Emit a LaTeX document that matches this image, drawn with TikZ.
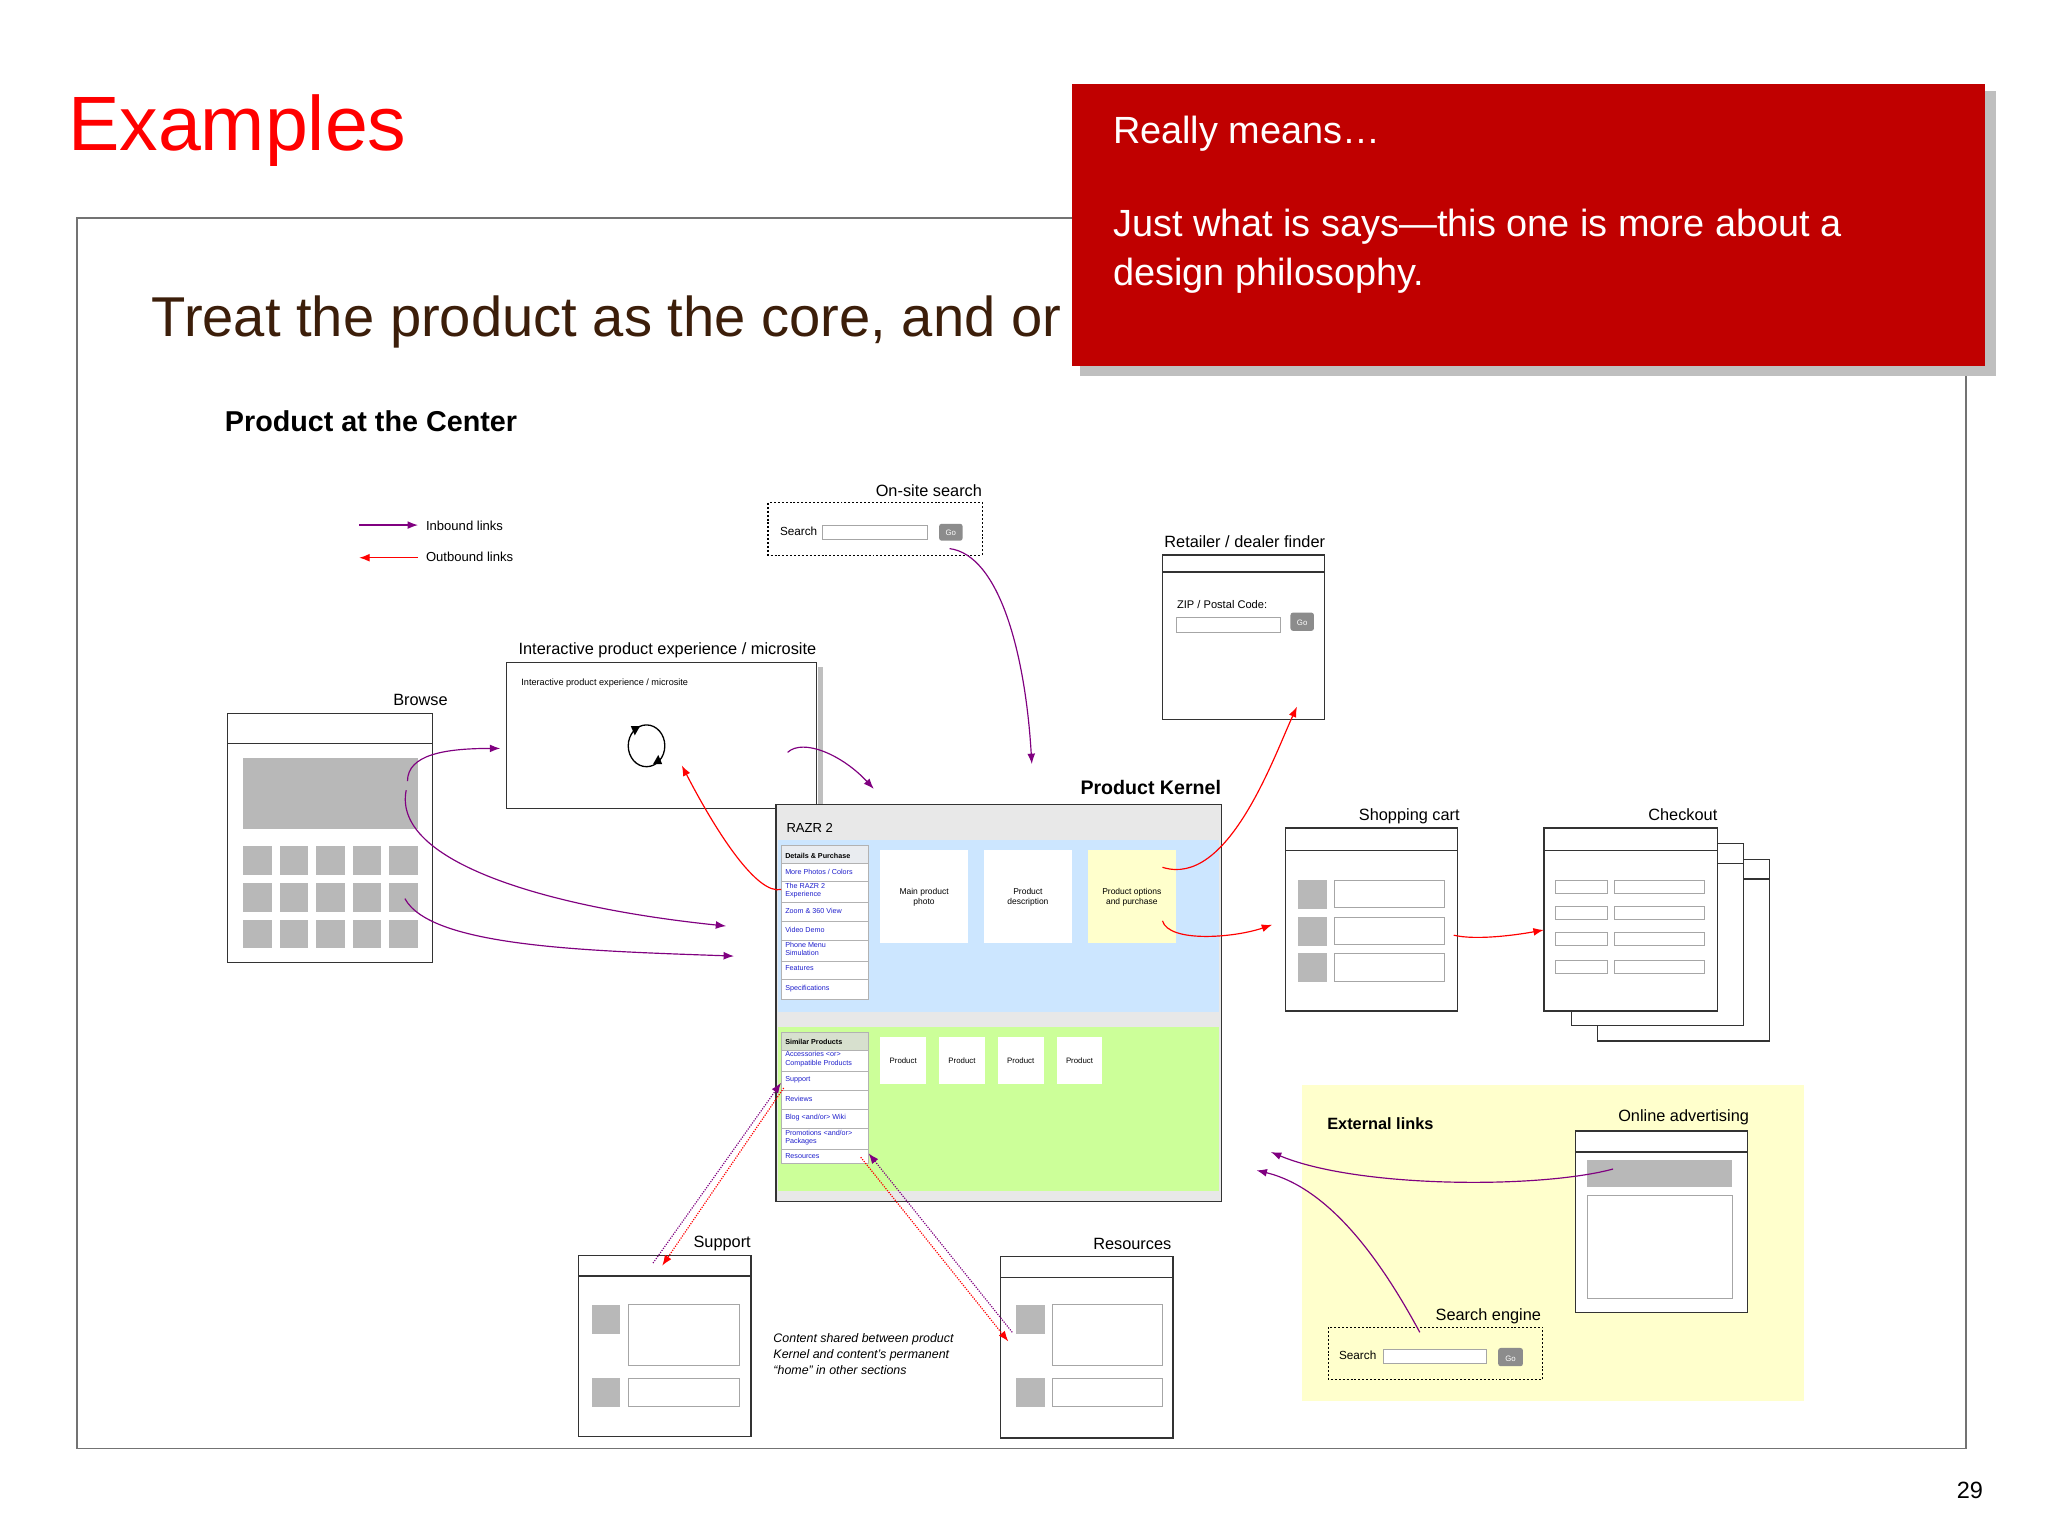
\documentclass[tikz,border=0pt]{standalone}
\usepackage{fontspec}
\setmainfont{Liberation Sans}
\usetikzlibrary{arrows.meta}
\definecolor{pur}{HTML}{800080}
\definecolor{redbox}{HTML}{C00000}
\definecolor{blueA}{HTML}{CCE6FF}
\definecolor{greenA}{HTML}{CCFF99}
\definecolor{yel}{HTML}{FFFFCC}
\definecolor{lnk}{HTML}{2020CC}
\tikzset{
 t/.style={inner sep=0pt,anchor=base west,font=\fontsize{#1}{#1}\selectfont},
 tr/.style={inner sep=0pt,anchor=base east,font=\fontsize{#1}{#1}\selectfont},
 tc/.style={inner sep=0pt,anchor=base,font=\fontsize{#1}{#1}\selectfont},
 wire/.style={draw=black!80,line width=1pt,fill=white},
 inbox/.style={draw=black!35,line width=0.6pt,fill=white},
 gobtn/.style={fill=black!45,rounded corners=2pt},
 inarr/.style={pur,line width=0.9pt,-{Latex[length=8pt,width=6pt]}},
 outarr/.style={red,line width=0.9pt,-{Latex[length=8pt,width=6pt]}},
 menuitem/.style={draw=black!30,line width=0.5pt,fill=white},
 mtxt/.style={inner sep=0pt,anchor=north west,text=lnk,font=\fontsize{5.5}{6.2}\selectfont,align=left},
}
\begin{document}
\begin{tikzpicture}[x=1pt,y=-1pt]
\useasboundingbox (0,0) rectangle (1568,1176);
\fill[white] (0,0) rectangle (1568,1176);
% frame
\draw[black!55,line width=1.5pt] (59,167) rectangle (1505,1109);
\node[t=59,text=red] (ex) at (52,115) {Examples};
\node[t=43,text={rgb,255:red,60;green,30;blue,10}] (treat) at (116,258) {Treat the product as the core, and or};
\node[t=22,font=\fontsize{22}{22}\selectfont\bfseries] (pac) at (172,330) {Product at the Center};
% legend
\coordinate (l1a) at (275,402); \coordinate (l1b) at (320,402);
\coordinate (l2a) at (320,427); \coordinate (l2b) at (275,427);
\draw[inarr] (l1a) -- (l1b);
\draw[outarr] (l2a) -- (l2b);
\node[t=10] (inl) at (326,406) {Inbound links};
\node[t=10] (outl) at (326,430) {Outbound links};
% on-site search
\node[tr=12.5] (osl) at (752,380) {On-site search};
\draw[line width=0.8pt,dash pattern=on 1.5pt off 1.5pt] (588,385) rectangle (752,425);
\node[t=9] (oss) at (597,410) {Search};
\draw[inbox] (630,402) rectangle (710,413);
\fill[gobtn] (719,401) rectangle (737,414);
\node[tc=6,text=white] (osgo) at (728,410) {Go};
% retailer
\node[tc=12.5] (rl) at (953,419) {Retailer / dealer finder};
\draw[wire] (890,425) rectangle (1014,551);
\draw[black!80,line width=1pt] (890,438) -- (1014,438);
\node[t=8.5] (zip) at (901,466) {ZIP / Postal Code:};
\draw[inbox] (901,473) rectangle (980,484);
\fill[gobtn] (988,469) rectangle (1006,483);
\node[tc=6,text=white] (rgo) at (997,479) {Go};
% interactive
\fill[black!25] (626,511) rectangle (630,621);
\node[tc=12.5] (ipl) at (511,501) {Interactive product experience / microsite};
\draw[wire] (388,507) rectangle (625,619);
\node[t=7] (ipi) at (399,525) {Interactive product experience / microsite};
\draw[line width=1pt] (495,571) ellipse (14pt and 16pt);
\fill (483,556) -- (490,556) -- (486,563) -- cycle;
\fill (507,585) -- (500,585) -- (504,578) -- cycle;
% browse
\node[tr=12.5] (bl) at (343,540) {Browse};
\draw[wire] (174,546) rectangle (331,737);
\draw[black!80,line width=1pt] (174,569) -- (331,569);
\fill[black!28] (186,580) rectangle (320,635);
\foreach \i in {0,...,4} \foreach \j in {0,1,2}
  \fill[black!28] ({186+28*\i},{648+28*\j}) rectangle ++(22,22);
% product kernel
\node[tr=15,font=\fontsize{15}{15}\selectfont\bfseries] (pkl) at (935,608) {Product Kernel};
\draw[black!80,line width=1pt,fill=black!9] (594,616) rectangle (935,920);
\node[t=10] (razr) at (602,637) {RAZR 2};
\fill[blueA] (596,643) rectangle (933,775);
\fill[greenA] (596,786) rectangle (933,912);
\draw[menuitem,fill=blueA!70!black!20] (598,647) rectangle (665,661);
\node[t=5.5,font=\fontsize{5.5}{5.5}\selectfont\bfseries] (dp) at (601,657) {Details \& Purchase};
\foreach \a/\b in {661/675,675/691,691/705,705/720,720/736,736/750,750/765}
  \draw[menuitem] (598,\a) rectangle (665,\b);
\node[mtxt] (m1) at (601,665) {More Photos / Colors};
\node[mtxt] (m2) at (601,676) {The RAZR 2\\Experience};
\node[mtxt] (m3) at (601,695) {Zoom \& 360 View};
\node[mtxt] (m4) at (601,710) {Video Demo};
\node[mtxt] (m5) at (601,721) {Phone Menu\\Simulation};
\node[mtxt] (m6) at (601,739) {Features};
\node[mtxt] (m7) at (601,754) {Specifications};
\fill[white] (674,651) rectangle (741,722);
\fill[white] (753,651) rectangle (821,722);
\fill[yel] (833,651) rectangle (900,722);
\node[align=center,font=\fontsize{6.5}{7.5}\selectfont,inner sep=0pt] (c1) at (707.5,687) {Main product\\photo};
\node[align=center,font=\fontsize{6.5}{7.5}\selectfont,inner sep=0pt] (c2) at (787,687) {Product\\description};
\node[align=center,font=\fontsize{6.5}{7.5}\selectfont,inner sep=0pt] (c3) at (866.5,687) {Product options\\and purchase};
\draw[menuitem,fill=greenA!60!black!30] (598,790) rectangle (665,804);
\node[t=5.5,font=\fontsize{5.5}{5.5}\selectfont\bfseries] (sp) at (601,800) {Similar Products};
\foreach \a/\b in {804/820,820/835,835/849,849/864,864/880,880/891}
  \draw[menuitem] (598,\a) rectangle (665,\b);
\node[mtxt] (s1) at (601,805) {Accessories <or>\\Compatible Products};
\node[mtxt] (s2) at (601,824) {Support};
\node[mtxt] (s3) at (601,839) {Reviews};
\node[mtxt] (s4) at (601,853) {Blog <and/or> Wiki};
\node[mtxt] (s5) at (601,865) {Promotions <and/or>\\Packages};
\node[mtxt] (s6) at (601,883) {Resources};
\foreach \x/\n in {674/p1,719/p2,764/p3,809/p4}{
  \fill[white] (\x,794) rectangle ++(35,36);
  \node[font=\fontsize{6}{6}\selectfont,inner sep=0pt] (\n) at (\x+17.5,812) {Product};}
% shopping cart
\node[tc=12.5] (scl) at (1079,628) {Shopping cart};
\draw[wire] (984,634) rectangle (1116,774);
\draw[black!80,line width=1pt] (984,651) -- (1116,651);
\foreach \y in {674,702,730}{
  \fill[black!28] (994,\y) rectangle ++(22,22);
  \draw[inbox] (1022,\y) rectangle ++(84,21);}
% checkout
\node[tr=12.5] (col) at (1315,628) {Checkout};
\draw[wire] (1223,658) rectangle (1355,797);
\draw[black!80,line width=1pt] (1223,673) -- (1355,673);
\draw[wire] (1203,646) rectangle (1335,785);
\draw[black!80,line width=1pt] (1203,661) -- (1335,661);
\draw[wire] (1182,634) rectangle (1315,774);
\draw[black!80,line width=1pt] (1182,651) -- (1315,651);
\foreach \y in {674,694,714,735}{
  \draw[inbox] (1191,\y) rectangle (1231,\y+10);
  \draw[inbox] (1236,\y) rectangle (1305,\y+10);}
% external links
\fill[yel] (997,831) rectangle (1381,1073);
\node[t=12.5,font=\fontsize{12.5}{12.5}\selectfont\bfseries] (exl) at (1016,865) {External links};
\node[tc=12.5] (oal) at (1289,859) {Online advertising};
\draw[wire] (1206,866) rectangle (1338,1005);
\draw[black!80,line width=1pt] (1206,882) -- (1338,882);
\fill[black!28] (1215,888) rectangle (1326,909);
\draw[inbox] (1215,915) rectangle (1326,994);
\node[tr=12.5] (sel) at (1180,1011) {Search engine};
\draw[line width=0.8pt,dash pattern=on 1.5pt off 1.5pt] (1017,1016) rectangle (1181,1056);
\node[t=9] (ses) at (1025,1041) {Search};
\draw[inbox] (1059,1033) rectangle (1138,1044);
\fill[gobtn] (1147,1032) rectangle (1166,1046);
\node[tc=6,text=white] (sego) at (1156.5,1042) {Go};
% support
\node[tr=12.5] (sul) at (575,955) {Support};
\draw[wire] (443,961) rectangle (575,1100);
\draw[black!80,line width=1pt] (443,977) -- (575,977);
\fill[black!28] (453,999) rectangle (475,1021);
\fill[black!28] (453,1055) rectangle (475,1077);
\draw[inbox] (481,999) rectangle (566,1045);
\draw[inbox] (481,1055) rectangle (566,1077);
% resources
\node[tr=12.5] (rel) at (897,957) {Resources};
\draw[wire] (766,962) rectangle (898,1101);
\draw[black!80,line width=1pt] (766,978) -- (898,978);
\fill[black!28] (778,999) rectangle (800,1021);
\fill[black!28] (778,1055) rectangle (800,1077);
\draw[inbox] (806,999) rectangle (890,1045);
\draw[inbox] (806,1055) rectangle (890,1077);
\node[anchor=north west,inner sep=0pt,align=left,font=\fontsize{9.5}{12}\selectfont\itshape] (cs) at (592,1021) {Content shared between product\\Kernel and content's permanent\\“home” in other sections};
% arrows
\coordinate (a1s) at (312,598); \coordinate (a1e) at (383,573);
\draw[inarr] (a1s) .. controls (312,578) and (340,573) .. (a1e);
\coordinate (a2s) at (311,605); \coordinate (a2e) at (556,709);
\draw[inarr] (a2s) .. controls (300,660) and (420,695) .. (a2e);
\coordinate (a3s) at (310,688); \coordinate (a3e) at (562,732);
\draw[inarr] (a3s) .. controls (330,725) and (450,728) .. (a3e);
\coordinate (a4s) at (603,576); \coordinate (a4e) at (669,604);
\draw[inarr] (a4s) .. controls (615,565) and (645,578) .. (a4e);
\coordinate (a5s) at (727,420); \coordinate (a5e) at (790,585);
\draw[inarr] (a5s) .. controls (765,425) and (785,500) .. (a5e);
\coordinate (a6s) at (1235,895); \coordinate (a6e) at (973,882);
\draw[inarr] (a6s) .. controls (1180,910) and (1040,910) .. (a6e);
\coordinate (a7s) at (1087,1020); \coordinate (a7e) at (962,896);
\draw[inarr] (a7s) .. controls (1060,970) and (1020,910) .. (a7e);
\coordinate (r1s) at (598,681); \coordinate (r1e) at (522,586);
\draw[outarr] (r1s) .. controls (580,685) and (550,640) .. (r1e);
\coordinate (r2s) at (890,664); \coordinate (r2e) at (993,541);
\draw[outarr] (r2s) .. controls (940,680) and (975,580) .. (r2e);
\coordinate (r3s) at (890,705); \coordinate (r3e) at (974,708);
\draw[outarr] (r3s) .. controls (895,722) and (945,718) .. (r3e);
\coordinate (r4s) at (1113,716); \coordinate (r4e) at (1182,712);
\draw[outarr] (r4s) .. controls (1130,720) and (1160,716) .. (r4e);
\coordinate (d1s) at (500,967); \coordinate (d1e) at (598,829);
\draw[inarr,densely dotted] (d1s) -- (d1e);
\coordinate (d2s) at (600,833); \coordinate (d2e) at (507,969);
\draw[outarr,densely dotted] (d2s) -- (d2e);
\coordinate (d3s) at (775,1020); \coordinate (d3e) at (665,883);
\draw[inarr,densely dotted] (d3s) -- (d3e);
\coordinate (d4s) at (659,886); \coordinate (d4e) at (772,1027);
\draw[outarr,densely dotted] (d4s) -- (d4e);
% red box
\fill[black!25] (827,70) rectangle (1528,288);
\fill[redbox] (821,64) rectangle (1520,280);
\node[t=29,text=white] (rm) at (852,110) {Really means…};
\node[anchor=north west,inner sep=0pt,align=left,text=white,font=\fontsize{29}{37}\selectfont] (rm2) at (852,160) {Just what is says—this one is more about a\\design philosophy.};
\node[t=18] (pg) at (1498,1147) {29};
\end{tikzpicture}
\end{document}
